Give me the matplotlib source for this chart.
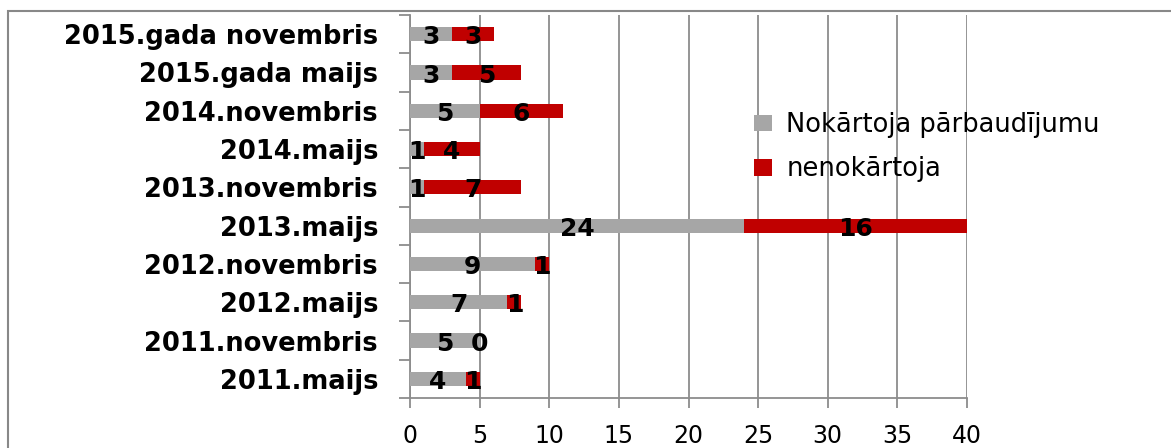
import matplotlib
matplotlib.use("Agg")
import matplotlib.pyplot as plt
from matplotlib.patches import Rectangle
import numpy as np

# Exam sessions (bottom to top) and results
sessions = ["2011.maijs", "2011.novembris", "2012.maijs", "2012.novembris",
            "2013.maijs", "2013.novembris", "2014.maijs", "2014.novembris",
            "2015.gada maijs", "2015.gada novembris"]
passed = [4, 5, 7, 9, 24, 1, 1, 5, 3, 3]
failed = [1, 0, 1, 1, 16, 7, 4, 6, 5, 3]
series_names = ["Nokārtoja pārbaudījumu", "nenokārtoja"]
x_ticks = [0, 5, 10, 15, 20, 25, 30, 35, 40]

GRAY = "#A6A6A6"
RED = "#C00000"
LINE = "#8C8C8C"

W, H = 1171, 448
fig = plt.figure(figsize=(W / 100, H / 100), dpi=100)
fig.patch.set_facecolor("white")

# outer chart frame (continues past right and bottom edges)
fig.patches.append(Rectangle((8 / W, -0.2), 1.2, (H - 11) / H + 0.2,
                             transform=fig.transFigure, fill=False,
                             edgecolor="#888888", linewidth=1.5))

ax = fig.add_axes([410 / W, 50 / H, (967 - 410) / W, (398 - 15) / H])

y = np.arange(len(sessions))
bar_h = 0.37
ax.barh(y, passed, height=bar_h, color=GRAY, label=series_names[0], zorder=3)
ax.barh(y, failed, left=passed, height=bar_h, color=RED, label=series_names[1], zorder=3)

label_font = dict(fontsize=18, fontweight="bold", color="black",
                  ha="center", va="center", family="DejaVu Sans", zorder=4)
for yi, p, f in zip(y, passed, failed):
    ax.text(p / 2, yi - 0.08, str(p), **label_font)
    ax.text(p + f / 2, yi - 0.08, str(f), **label_font)

ax.set_xlim(0, 40)
ax.set_ylim(-0.5, len(sessions) - 0.5)
ax.set_xticks(x_ticks)
ax.set_xticklabels([str(t) for t in x_ticks], fontsize=17)
ax.tick_params(axis="x", length=7, width=1.3, color=LINE, pad=12)

ax.set_yticks(y)
ax.set_yticklabels(sessions, fontsize=18.5, fontweight="bold")
ax.set_yticks(np.arange(-0.5, len(sessions), 1), minor=True)
ax.tick_params(axis="y", which="major", length=0, pad=23)
ax.tick_params(axis="y", which="minor", length=8, width=1.3, color=LINE)

ax.grid(axis="x", color=LINE, linewidth=1.3, zorder=0)
ax.set_axisbelow(True)
for side in ["top", "right"]:
    ax.spines[side].set_visible(False)
for side in ["left", "bottom"]:
    ax.spines[side].set_color(LINE)
    ax.spines[side].set_linewidth(1.3)

leg = ax.legend(loc="upper left", bbox_to_anchor=(0.617, 0.747), frameon=False,
                fontsize=18.5, handlelength=0.72, handleheight=0.62,
                handletextpad=0.55, labelspacing=0.72, borderaxespad=0,
                borderpad=0)

fig.savefig("out.png", dpi=100, facecolor="white")
